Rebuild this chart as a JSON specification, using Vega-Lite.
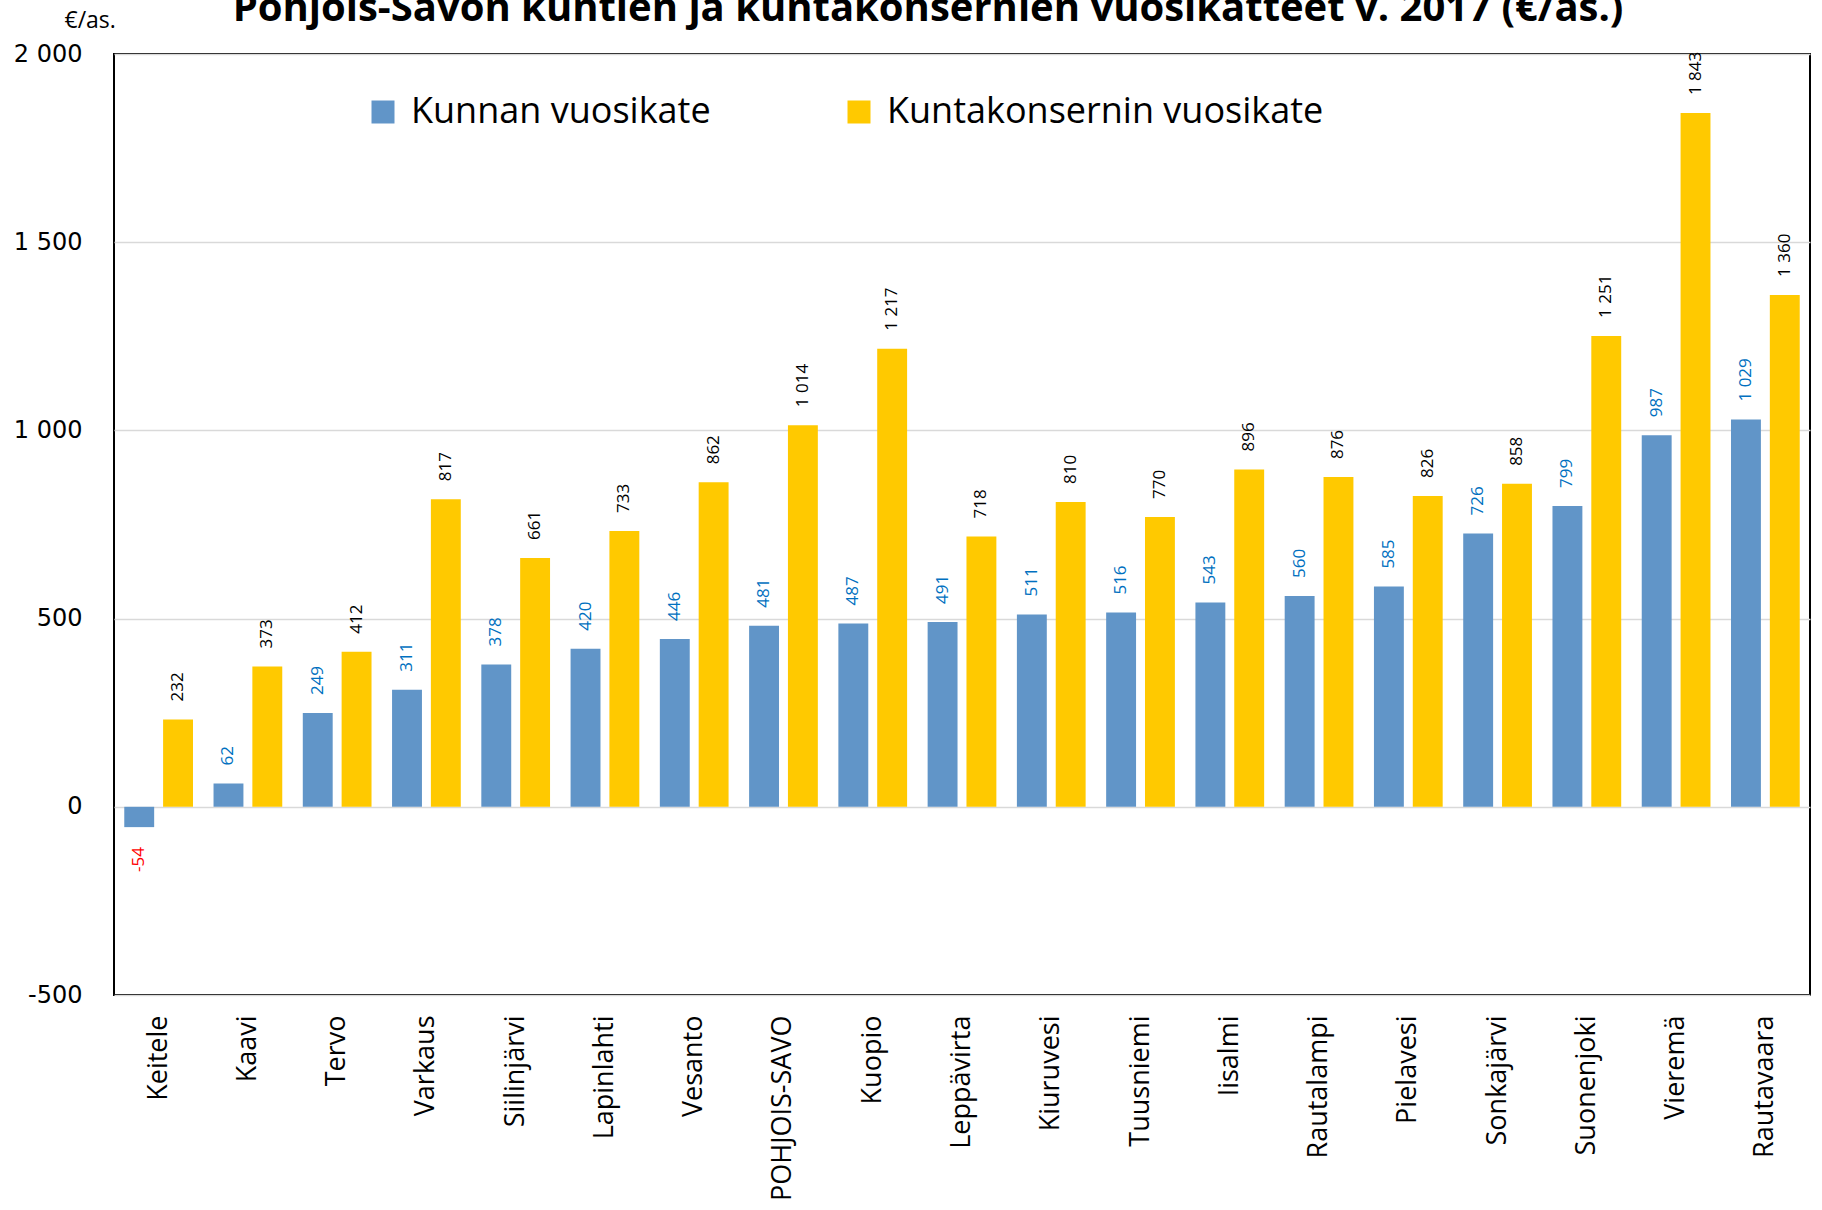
{
  "$schema": "https://vega.github.io/schema/vega-lite/v6.json",
  "width": 1696,
  "height": 941,
  "autosize": {"type": "none"},
  "padding": {"left": 114, "top": 54, "right": 12, "bottom": 215},
  "background": "white",
  "config": {
    "locale": {"number": {"decimal": ",", "thousands": " ", "grouping": [3], "currency": ["", " €"], "minus": "-"}},
    "view": {"stroke": "black", "strokeWidth": 2},
    "font": "Open Sans"
  },
  "title": {
    "text": "Pohjois-Savon kuntien ja kuntakonsernien vuosikatteet v. 2017 (€/as.)",
    "font": "Open Sans",
    "fontSize": 40,
    "fontWeight": "bold",
    "color": "black",
    "anchor": "middle",
    "frame": "group",
    "baseline": "alphabetic",
    "offset": 0,
    "dy": 52,
    "dx": -34
  },
  "data": {
    "values": [
      {"kunta": "Keitele", "sarja": "Kunnan vuosikate", "arvo": -54},
      {"kunta": "Keitele", "sarja": "Kuntakonsernin vuosikate", "arvo": 232},
      {"kunta": "Kaavi", "sarja": "Kunnan vuosikate", "arvo": 62},
      {"kunta": "Kaavi", "sarja": "Kuntakonsernin vuosikate", "arvo": 373},
      {"kunta": "Tervo", "sarja": "Kunnan vuosikate", "arvo": 249},
      {"kunta": "Tervo", "sarja": "Kuntakonsernin vuosikate", "arvo": 412},
      {"kunta": "Varkaus", "sarja": "Kunnan vuosikate", "arvo": 311},
      {"kunta": "Varkaus", "sarja": "Kuntakonsernin vuosikate", "arvo": 817},
      {"kunta": "Siilinjärvi", "sarja": "Kunnan vuosikate", "arvo": 378},
      {"kunta": "Siilinjärvi", "sarja": "Kuntakonsernin vuosikate", "arvo": 661},
      {"kunta": "Lapinlahti", "sarja": "Kunnan vuosikate", "arvo": 420},
      {"kunta": "Lapinlahti", "sarja": "Kuntakonsernin vuosikate", "arvo": 733},
      {"kunta": "Vesanto", "sarja": "Kunnan vuosikate", "arvo": 446},
      {"kunta": "Vesanto", "sarja": "Kuntakonsernin vuosikate", "arvo": 862},
      {"kunta": "POHJOIS-SAVO", "sarja": "Kunnan vuosikate", "arvo": 481},
      {"kunta": "POHJOIS-SAVO", "sarja": "Kuntakonsernin vuosikate", "arvo": 1014},
      {"kunta": "Kuopio", "sarja": "Kunnan vuosikate", "arvo": 487},
      {"kunta": "Kuopio", "sarja": "Kuntakonsernin vuosikate", "arvo": 1217},
      {"kunta": "Leppävirta", "sarja": "Kunnan vuosikate", "arvo": 491},
      {"kunta": "Leppävirta", "sarja": "Kuntakonsernin vuosikate", "arvo": 718},
      {"kunta": "Kiuruvesi", "sarja": "Kunnan vuosikate", "arvo": 511},
      {"kunta": "Kiuruvesi", "sarja": "Kuntakonsernin vuosikate", "arvo": 810},
      {"kunta": "Tuusniemi", "sarja": "Kunnan vuosikate", "arvo": 516},
      {"kunta": "Tuusniemi", "sarja": "Kuntakonsernin vuosikate", "arvo": 770},
      {"kunta": "Iisalmi", "sarja": "Kunnan vuosikate", "arvo": 543},
      {"kunta": "Iisalmi", "sarja": "Kuntakonsernin vuosikate", "arvo": 896},
      {"kunta": "Rautalampi", "sarja": "Kunnan vuosikate", "arvo": 560},
      {"kunta": "Rautalampi", "sarja": "Kuntakonsernin vuosikate", "arvo": 876},
      {"kunta": "Pielavesi", "sarja": "Kunnan vuosikate", "arvo": 585},
      {"kunta": "Pielavesi", "sarja": "Kuntakonsernin vuosikate", "arvo": 826},
      {"kunta": "Sonkajärvi", "sarja": "Kunnan vuosikate", "arvo": 726},
      {"kunta": "Sonkajärvi", "sarja": "Kuntakonsernin vuosikate", "arvo": 858},
      {"kunta": "Suonenjoki", "sarja": "Kunnan vuosikate", "arvo": 799},
      {"kunta": "Suonenjoki", "sarja": "Kuntakonsernin vuosikate", "arvo": 1251},
      {"kunta": "Vieremä", "sarja": "Kunnan vuosikate", "arvo": 987},
      {"kunta": "Vieremä", "sarja": "Kuntakonsernin vuosikate", "arvo": 1843},
      {"kunta": "Rautavaara", "sarja": "Kunnan vuosikate", "arvo": 1029},
      {"kunta": "Rautavaara", "sarja": "Kuntakonsernin vuosikate", "arvo": 1360}
    ]
  },
  "encoding": {
    "x": {
      "field": "kunta", "type": "nominal", "sort": null,
      "scale": {"paddingInner": 0.23, "paddingOuter": 0.115},
      "axis": {
        "title": null, "domain": false, "ticks": false, "labelAngle": -90,
        "labelFont": "Open Sans", "labelFontSize": 27, "labelColor": "black",
        "labelPadding": 20, "labelLimit": 300
      }
    },
    "xOffset": {
      "field": "sarja", "type": "nominal",
      "sort": ["Kunnan vuosikate", "Kuntakonsernin vuosikate"],
      "scale": {"paddingInner": 0.23, "paddingOuter": 0}
    },
    "y": {
      "field": "arvo", "type": "quantitative",
      "scale": {"domain": [-500, 2000], "nice": false},
      "axis": {
        "values": [-500, 0, 500, 1000, 1500, 2000], "format": ",d",
        "grid": true, "gridColor": "#D9D9D9", "gridWidth": 1.5,
        "domain": false, "ticks": false,
        "labelFont": "DejaVu Sans", "labelFontSize": 24, "labelColor": "black", "labelPadding": 32,
        "title": "€/as.", "titleAngle": 0, "titleX": -50, "titleY": -27,
        "titleAlign": "left", "titleBaseline": "alphabetic",
        "titleFont": "Open Sans", "titleFontSize": 23, "titleFontWeight": "normal", "titleColor": "black"
      }
    }
  },
  "layer": [
    {
      "mark": {"type": "bar"},
      "encoding": {
        "color": {
          "field": "sarja", "type": "nominal",
          "scale": {"domain": ["Kunnan vuosikate", "Kuntakonsernin vuosikate"], "range": ["#6195C8", "#FFC900"]},
          "legend": {
            "title": null, "orient": "none", "legendX": 251, "legendY": 40,
            "direction": "horizontal", "symbolType": "square", "symbolSize": 529,
            "symbolStrokeWidth": 0, "labelFont": "Open Sans", "labelFontSize": 36,
            "labelColor": "black", "labelOffset": 10, "columnPadding": 130, "labelLimit": 600
          }
        }
      }
    },
    {
      "transform": [{"filter": "datum.sarja == 'Kunnan vuosikate' && datum.arvo >= 0"}],
      "mark": {"type": "text", "angle": -90, "align": "left", "baseline": "middle", "dx": 18, "fontSize": 17, "font": "Open Sans", "color": "#0070C0"},
      "encoding": {"text": {"field": "arvo", "type": "quantitative", "format": ",d"}}
    },
    {
      "transform": [{"filter": "datum.sarja == 'Kuntakonsernin vuosikate'"}],
      "mark": {"type": "text", "angle": -90, "align": "left", "baseline": "middle", "dx": 18, "fontSize": 17, "font": "Open Sans", "color": "black"},
      "encoding": {"text": {"field": "arvo", "type": "quantitative", "format": ",d"}}
    },
    {
      "transform": [{"filter": "datum.arvo < 0"}],
      "mark": {"type": "text", "angle": -90, "align": "right", "baseline": "middle", "dx": -20, "fontSize": 17, "font": "Open Sans", "color": "#FF0000"},
      "encoding": {"text": {"field": "arvo", "type": "quantitative", "format": ",d"}}
    },
    {
      "data": {"values": [{}]},
      "mark": {"type": "rule", "color": "black", "strokeWidth": 2},
      "encoding": {"y": {"datum": 0}, "x": null, "xOffset": null}
    }
  ]
}
